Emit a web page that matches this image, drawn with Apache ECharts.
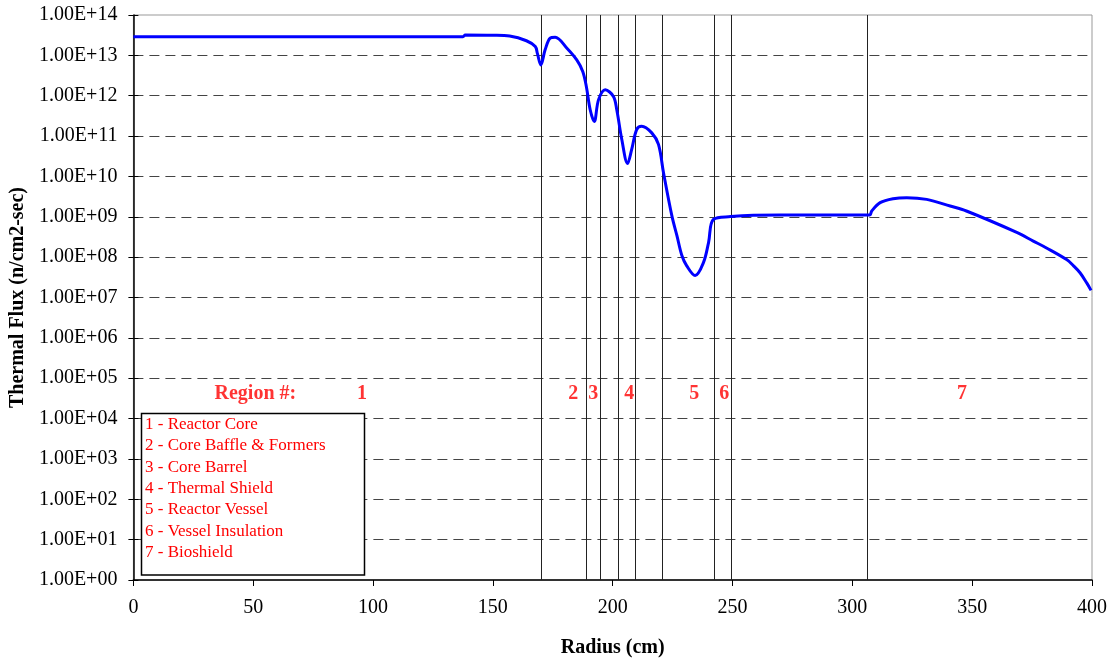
<!DOCTYPE html>
<html>
<head>
<meta charset="utf-8">
<script src="https://cdn.jsdelivr.net/npm/echarts@6/dist/echarts.min.js"></script>
<style>
  html, body { margin: 0; padding: 0; background: #fff; }
  #chart { width: 1114px; height: 663px; }
</style>
</head>
<body>
<div id="chart"></div>
<script>
const FONT = "'Liberation Serif', 'Times New Roman', serif";

// radius (cm) / thermal flux (n/cm2-sec)
const radius = [0, 137.5, 138.5, 150, 157, 164, 167.7, 168.6, 170, 171.8, 173.9, 176, 180.9, 185, 187.5, 189,
  190.6, 192.3, 194.1, 196.9, 200.3, 201.7, 203.8, 206.2, 207.9, 210, 212.1, 216.3, 219.1, 221.2, 224.7,
  226.8, 228.9, 230.9, 234.4, 237.9, 240, 242.1, 249.2, 258.7, 270, 306.5, 307.4, 308.1, 311.6, 317, 322.7,
  331, 340.8, 347.6, 368.6, 375.5, 381, 389.4, 392.3, 395, 397.8, 399.6];
const flux = [2.9e13, 2.9e13, 3.2e13, 3.15e13, 3.0e13, 2.3e13, 1.65e13, 1.1e13, 5.8e12, 1.37e13, 2.66e13, 2.81e13,
  1.5e13, 7.7e12, 4.0e12, 1.7e12, 4.5e11, 2.3e11, 8.0e11, 1.4e12, 9.6e11, 4.5e11, 8.2e10, 2.1e10, 4.6e10,
  1.45e11, 1.75e11, 1.2e11, 6.2e10, 1.23e10, 1.05e9, 3.4e8, 1.08e8, 6.1e7, 3.5e7, 7.4e7, 2.3e8, 8.7e8,
  1.01e9, 1.09e9, 1.1e9, 1.1e9, 1.12e9, 1.39e9, 2.24e9, 2.81e9, 2.98e9, 2.7e9, 1.85e9, 1.39e9,
  4.1e8, 2.5e8, 1.69e8, 8.7e7, 6.1e7, 4.1e7, 2.3e7, 1.5e7];

// region boundaries (cm)
const boundaries = [170, 189, 195, 202.3, 209.5, 220.5, 242.2, 249.5, 306.2];

// region number labels: [radius, flux height, text]
const regionLabels = [
  [50.9, 4.1e4, 'Region #:'],
  [95.4, 4.1e4, '1'],
  [183.5, 4.1e4, '2'],
  [191.9, 4.1e4, '3'],
  [206.9, 4.1e4, '4'],
  [234, 4.1e4, '5'],
  [246.5, 4.1e4, '6'],
  [345.8, 4.1e4, '7']
];

const legendLines = [
  '1 - Reactor Core',
  '2 - Core Baffle & Formers',
  '3 - Core Barrel',
  '4 - Thermal Shield',
  '5 - Reactor Vessel',
  '6 - Vessel Insulation',
  '7 - Bioshield'
];

function sci(v) {
  const s = Number(v).toExponential(2).toUpperCase();
  const m = s.match(/^(.*)E([+-])(\d+)$/);
  return m[1] + 'E' + m[2] + (m[3].length < 2 ? '0' + m[3] : m[3]);
}

const chart = echarts.init(document.getElementById('chart'));
chart.setOption({
  animation: false,
  textStyle: { fontFamily: FONT },
  grid: {
    left: 133, right: 22, top: 15, bottom: 81,
    show: true, borderColor: '#999', borderWidth: 1
  },
  xAxis: {
    type: 'value',
    min: 0, max: 400, interval: 50,
    name: 'Radius (cm)',
    nameLocation: 'middle',
    nameGap: 58,
    nameTextStyle: { fontFamily: FONT, fontSize: 20, fontWeight: 'bold', color: '#000' },
    axisLine: { lineStyle: { color: '#000', width: 1.5 } },
    axisTick: { length: 6, lineStyle: { color: '#000' } },
    axisLabel: { fontFamily: FONT, fontSize: 20, color: '#000', margin: 18 },
    splitLine: { show: false }
  },
  yAxis: [
    {
      type: 'log', logBase: 10,
      min: 1, max: 1e14, interval: 1,
      name: 'Thermal Flux (n/cm2-sec)',
      nameLocation: 'middle',
      nameGap: 100,
      nameTextStyle: { fontFamily: FONT, fontSize: 20, fontWeight: 'bold', color: '#000' },
      axisLine: { show: true, lineStyle: { color: '#000', width: 1.5 } },
      axisTick: { length: 5, lineStyle: { color: '#000' } },
      axisLabel: { fontFamily: FONT, fontSize: 20, color: '#000', margin: 16, formatter: sci, padding: [2, 0, 0, 0] },
      splitLine: {
        show: true, showMinLine: false, showMaxLine: false,
        lineStyle: { color: '#444', type: [10, 6], width: 1 }
      },
      minorTick: { show: false }
    },
    {
      type: 'log', logBase: 10,
      min: 1, max: 1e14, interval: 1,
      position: 'left',
      axisLine: { show: false },
      axisTick: { inside: true, length: 5, lineStyle: { color: '#000' } },
      axisLabel: { show: false },
      splitLine: { show: false }
    }
  ],
  graphic: [
    {
      type: 'rect',
      shape: { x: 141.5, y: 413.5, width: 223, height: 161.5 },
      style: { fill: '#fff', stroke: '#000', lineWidth: 1.5 },
      z: 100
    },
    {
      type: 'text',
      x: 145, y: 413.6,
      style: {
        text: legendLines.join('\n'),
        fill: '#ff0000',
        font: '17px ' + FONT,
        lineHeight: 21.4
      },
      z: 101
    }
  ],
  series: [
    {
      type: 'line',
      data: radius.map((r, i) => [r, flux[i]]),
      smooth: 0.35,
      symbol: 'none',
      lineStyle: { color: '#0000ff', width: 3 },
      z: 5,
      markLine: {
        silent: true,
        symbol: 'none',
        label: { show: false },
        lineStyle: { color: '#222', width: 1, type: 'solid' },
        data: boundaries.map(b => ({ xAxis: b }))
      }
    },
    {
      type: 'scatter',
      data: regionLabels,
      symbolSize: 0,
      silent: true,
      label: {
        show: true,
        position: 'inside',
        formatter: p => p.data[2],
        color: '#ff0000',
        fontFamily: FONT,
        fontSize: 20,
        fontWeight: 'bold'
      }
    }
  ]
});
</script>
</body>
</html>
